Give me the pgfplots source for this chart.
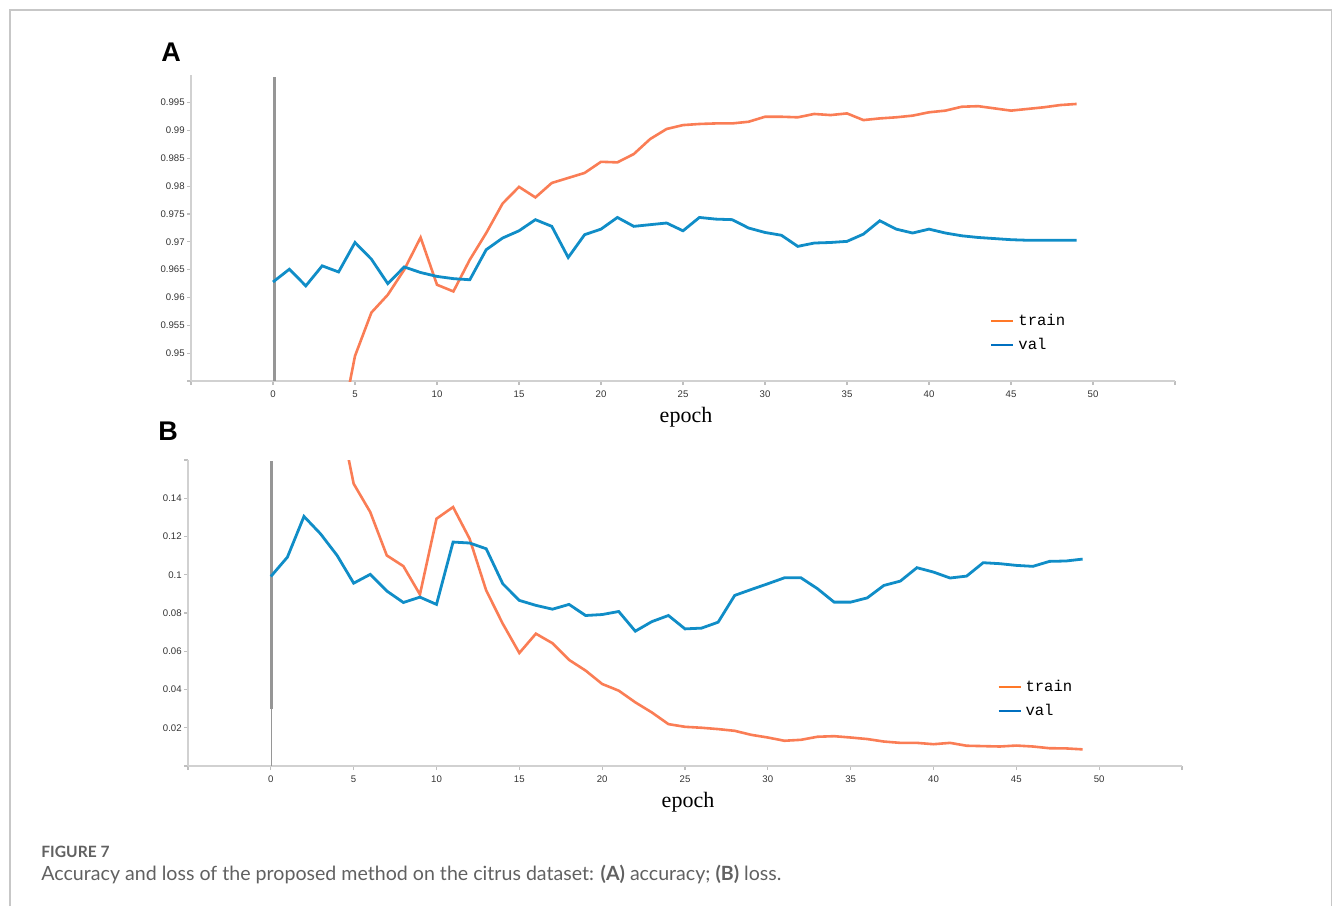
\documentclass[border=0pt]{standalone}
\usepackage{pgfplots}
\usepackage{pgfplotstable}
\pgfplotsset{compat=1.18}
\usepackage{fontspec}
\setmainfont{Liberation Sans}
\newfontfamily\seriffont{Liberation Serif}
\newfontfamily\monofont{Liberation Mono}
\newfontfamily\latofont{Lato}
\definecolor{trainc}{RGB}{250,125,85}
\definecolor{valc}{RGB}{16,141,199}
\definecolor{trainleg}{RGB}{255,120,40}
\definecolor{valleg}{RGB}{0,112,192}
\definecolor{vline}{RGB}{150,150,150}

\pgfplotstableread{
epoch acc
4 0.9345
5 0.9495
6 0.9573
7 0.9605
8 0.9650
9 0.9708
10 0.9623
11 0.9611
12 0.9668
13 0.9716
14 0.9769
15 0.9799
16 0.9780
17 0.9806
18 0.9815
19 0.9824
20 0.9844
21 0.9843
22 0.9858
23 0.9885
24 0.9903
25 0.9910
26 0.9912
27 0.9913
28 0.9913
29 0.9916
30 0.9925
31 0.9925
32 0.9924
33 0.9930
34 0.9928
35 0.9931
36 0.9919
37 0.9922
38 0.9924
39 0.9927
40 0.9933
41 0.9936
42 0.9943
43 0.9944
44 0.9940
45 0.9936
46 0.9939
47 0.9942
48 0.9946
49 0.9948
}\trainacc

\pgfplotstableread{
epoch acc
0 0.9628
1 0.9651
2 0.9621
3 0.9657
4 0.9646
5 0.9699
6 0.9669
7 0.9625
8 0.9655
9 0.9645
10 0.9638
11 0.9634
12 0.9632
13 0.9686
14 0.9707
15 0.9720
16 0.9740
17 0.9728
18 0.9672
19 0.9713
20 0.9723
21 0.9744
22 0.9728
23 0.9731
24 0.9734
25 0.9720
26 0.9744
27 0.9741
28 0.9740
29 0.9725
30 0.9717
31 0.9712
32 0.9692
33 0.9698
34 0.9699
35 0.9701
36 0.9714
37 0.9738
38 0.9723
39 0.9716
40 0.9723
41 0.9716
42 0.9711
43 0.9708
44 0.9706
45 0.9704
46 0.9703
47 0.9703
48 0.9703
49 0.9703
}\valacc

\pgfplotstableread{
epoch loss
4 0.1900
5 0.1476
6 0.1328
7 0.1101
8 0.1045
9 0.0897
10 0.1293
11 0.1354
12 0.1188
13 0.0918
14 0.0744
15 0.0591
16 0.0692
17 0.0642
18 0.0555
19 0.0499
20 0.0429
21 0.0394
22 0.0333
23 0.0280
24 0.0219
25 0.0205
26 0.0200
27 0.0193
28 0.0184
29 0.0163
30 0.0149
31 0.0132
32 0.0137
33 0.0153
34 0.0156
35 0.0149
36 0.0141
37 0.0128
38 0.0121
39 0.0121
40 0.0114
41 0.0121
42 0.0106
43 0.0104
44 0.0102
45 0.0107
46 0.0102
47 0.0093
48 0.0092
49 0.0087
}\trainloss

\pgfplotstableread{
epoch loss
0 0.0991
1 0.1092
2 0.1305
3 0.1214
4 0.1101
5 0.0956
6 0.1002
7 0.0915
8 0.0855
9 0.0883
10 0.0845
11 0.1171
12 0.1166
13 0.1136
14 0.0953
15 0.0866
16 0.0840
17 0.0820
18 0.0845
19 0.0787
20 0.0792
21 0.0808
22 0.0705
23 0.0755
24 0.0787
25 0.0717
26 0.0721
27 0.0752
28 0.0892
29 0.0923
30 0.0953
31 0.0984
32 0.0984
33 0.0927
34 0.0857
35 0.0857
36 0.0879
37 0.0944
38 0.0967
39 0.1037
40 0.1014
41 0.0983
42 0.0993
43 0.1063
44 0.1058
45 0.1049
46 0.1044
47 0.1070
48 0.1072
49 0.1082
}\valloss

\pgfplotsset{
  curvestyle/.style={
    scale only axis,
    xmin=-5, xmax=55,
    axis x line=bottom, axis y line=left,
    axis line style={-, draw=black!18, line width=0.8pt},
    tick align=outside,
    major tick length=2pt,
    tick style={draw=black!25, line width=0.6pt},
    xtick={-5,0,5,...,55},
    xticklabels={,0,5,10,15,20,25,30,35,40,45,50,},
    tick label style={font=\fontsize{4.8}{5}\selectfont, text=black!80},
    /pgf/number format/assume math mode=true,
    xticklabel style={inner sep=1pt, yshift=-1.5pt},
    yticklabel style={inner sep=1pt},
    xlabel={epoch},
    xlabel style={font=\seriffont\fontsize{11}{11}\selectfont, at={(axis description cs:0.5,0)}, anchor=center, yshift=-18pt, xshift=1.5pt},
    clip=true,
    legend cell align=left,
    legend image code/.code={\draw[#1, line width=1pt] (0pt,0pt) -- (11pt,0pt);},
  },
}

\begin{document}
\begin{tikzpicture}
\useasboundingbox (0,0) rectangle (666.5pt,-453pt);
\draw[black!22, line width=0.8pt] (5pt,-453pt) -- (5pt,-5pt) -- (665.8pt,-5pt) -- (665.8pt,-453pt);

\node[font=\fontsize{13.5}{13.5}\selectfont\bfseries, anchor=center] at (85.5pt,-26pt) {A};
\node[font=\fontsize{13.5}{13.5}\selectfont\bfseries, anchor=center] at (84pt,-215.5pt) {B};

\begin{axis}[curvestyle,
  at={(95.5pt,-190.5pt)}, anchor=south west,
  width=492pt, height=153pt,
  ymin=0.945, ymax=1.0,
  ytick={0.945,0.95,0.955,...,1.0},
  yticklabels={,0.95,0.955,0.96,0.965,0.97,0.975,0.98,0.985,0.99,0.995,},
  legend style={at={(0.812,0.234)}, anchor=north west, draw=none, fill=none,
    font=\monofont\fontsize{7.8}{8}\selectfont, inner sep=0pt, row sep=1pt},
]
\addplot[vline, line width=1.5pt, forget plot] coordinates {(0.1,0.945) (0.1,0.9996)};
\addplot[trainc, line width=1.3pt, forget plot] table[x=epoch, y=acc] {\trainacc};
\addplot[valc, line width=1.4pt, forget plot] table[x=epoch, y=acc] {\valacc};
\addlegendimage{trainleg}
\addlegendentry{train}
\addlegendimage{valleg}
\addlegendentry{val}
\end{axis}

\begin{axis}[curvestyle,
  at={(94pt,-383pt)}, anchor=south west,
  width=497pt, height=153pt,
  ymin=0, ymax=0.16,
  ytick={0,0.02,...,0.16},
  yticklabels={,0.02,0.04,0.06,0.08,0.1,0.12,0.14,},
  legend style={at={(0.814,0.296)}, anchor=north west, draw=none, fill=none,
    font=\monofont\fontsize{7.8}{8}\selectfont, inner sep=0pt, row sep=1pt},
]
\addplot[vline, line width=1.5pt, forget plot] coordinates {(0.05,0.03) (0.05,0.1595)};
\addplot[vline, line width=0.8pt, forget plot] coordinates {(0.05,0.0) (0.05,0.03)};
\addplot[trainc, line width=1.3pt, forget plot] table[x=epoch, y=loss] {\trainloss};
\addplot[valc, line width=1.4pt, forget plot] table[x=epoch, y=loss] {\valloss};
\addlegendimage{trainleg}
\addlegendentry{train}
\addlegendimage{valleg}
\addlegendentry{val}
\end{axis}

\node[anchor=base west, inner sep=0pt, font=\latofont\bfseries\fontsize{7.8}{10}\selectfont, text=black!62] at (20.5pt,-428.5pt) {FIGURE 7};
\node[anchor=base west, inner sep=0pt, font=\latofont\fontsize{9.8}{11}\selectfont, text=black!62] at (20.5pt,-440pt) {Accuracy and loss of the proposed method on the citrus dataset: \textbf{(A)} accuracy; \textbf{(B)} loss.};
\end{tikzpicture}
\end{document}
